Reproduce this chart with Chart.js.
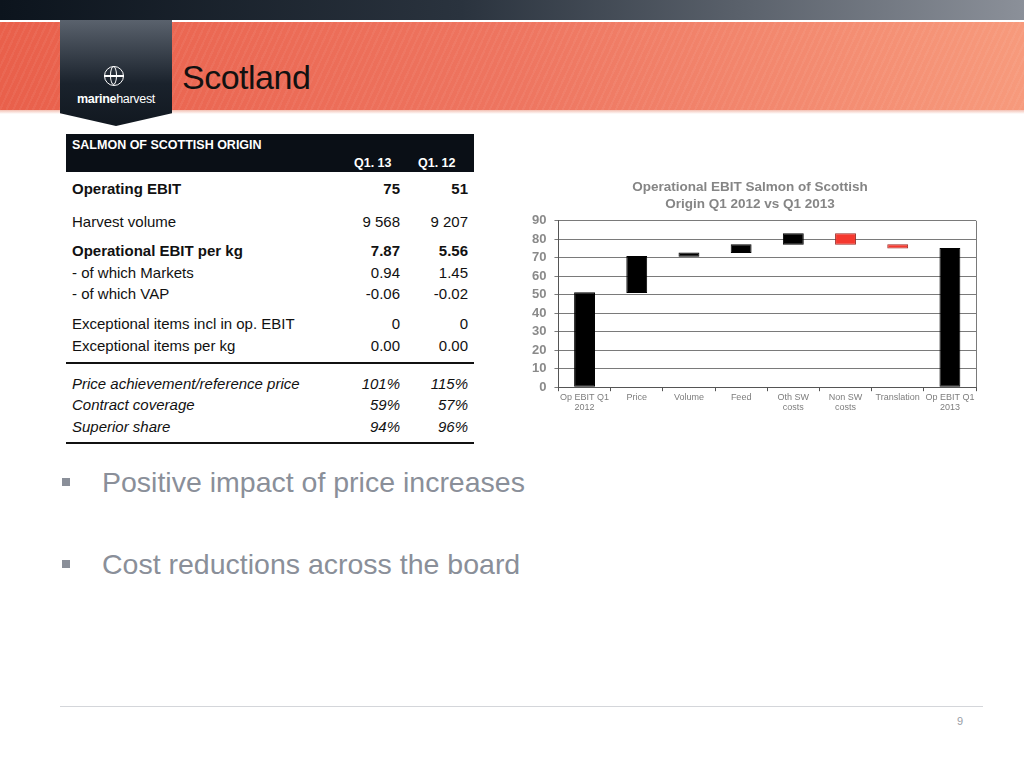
<!DOCTYPE html>
<html>
<head>
<meta charset="utf-8">
<script src="https://cdn.jsdelivr.net/npm/chart.js@4.4.1/dist/chart.umd.min.js"></script>
<style>
  body { margin: 0; width: 1024px; height: 768px; background: #fff; font-family: "Liberation Sans", Arial, sans-serif; position: relative; overflow: hidden; }
  .topbar { position: absolute; left: 0; top: 0; width: 1024px; height: 20px; background: linear-gradient(90deg, #0c141d 0%, #2a333e 45%, #8b9099 100%); }
  .band { position: absolute; left: 0; top: 22px; width: 1024px; height: 88px;
    background: repeating-linear-gradient(115deg, rgba(255,255,255,0.05) 0 2px, rgba(255,255,255,0) 2px 6px), linear-gradient(90deg, #e9604b 0%, #ee7560 50%, #f79a7c 100%); }
  .bandline { position: absolute; left: 0; top: 110px; width: 1024px; height: 4px; background: linear-gradient(#f3c0b3, #fff); }
  .logo { position: absolute; left: 60px; top: 20px; width: 112px; height: 106px; background: linear-gradient(#5a626d, #1a222c 60%, #111820);
    clip-path: polygon(0 0, 100% 0, 100% 88%, 50% 100%, 0 88%); }
  .globe { position: absolute; left: 44px; top: 46px; width: 20px; height: 20px; border: 1.5px solid #fff; border-radius: 50%; box-sizing: border-box; }
  .globe::before { content: ""; position: absolute; left: 5px; top: -1px; width: 7px; height: 19px; border: 1px solid #fff; border-radius: 50%; box-sizing: border-box; }
  .globe::after { content: ""; position: absolute; left: -1px; top: 8px; width: 20px; height: 2px; background: #fff; }
  .logotext { position: absolute; left: 0; top: 72px; width: 112px; text-align: center; color: #fff; font-size: 12.5px; letter-spacing: -0.3px; }
  .heading { position: absolute; left: 182px; top: 58px; font-size: 34px; color: #111; letter-spacing: -0.5px; }
  .tbl { position: absolute; left: 66px; top: 134px; width: 408px; font-size: 15px; color: #111; }
  .thead { position: absolute; left: 0; top: 0; width: 408px; height: 38px; background: #0a0f16; color: #fff; font-weight: bold; font-size: 12.5px; }
  .row { position: absolute; left: 6px; width: 400px; height: 20px; }
  .row span { position: absolute; }
  .c1 { right: 72px; }
  .c2 { right: 4px; }
  .b { font-weight: bold; }
  .i { font-style: italic; }
  .hr { position: absolute; left: 0; width: 408px; height: 2px; background: #111; }
  .bullet { position: absolute; left: 102px; font-size: 28.5px; color: #8a8f99; }
  .sq { position: absolute; left: 62px; width: 8px; height: 8px; background: #8a8f99; }
  .foot { position: absolute; left: 60px; top: 706px; width: 923px; height: 1px; background: #d4d6da; }
  .pnum { position: absolute; left: 957px; top: 715px; font-size: 11px; color: #9a9ea6; }
  #wrap { position: absolute; left: 524px; top: 175px; width: 466px; height: 238px; }
</style>
</head>
<body>
<div class="topbar"></div>
<div class="band"></div>
<div class="bandline"></div>
<div class="logo">
  <div class="globe"></div>
  <div class="logotext"><b>marine</b>harvest</div>
</div>
<div class="heading">Scotland</div>

<div class="tbl">
  <div class="thead">
    <span style="position:absolute;left:6px;top:4px;">SALMON OF SCOTTISH ORIGIN</span>
    <span style="position:absolute;left:288px;top:22px;">Q1. 13</span>
    <span style="position:absolute;left:352px;top:22px;">Q1. 12</span>
  </div>
  <div class="row b" style="top:46px;"><span>Operating EBIT</span><span class="c1">75</span><span class="c2">51</span></div>
  <div class="row" style="top:79px;"><span>Harvest volume</span><span class="c1">9 568</span><span class="c2">9 207</span></div>
  <div class="row b" style="top:108px;"><span>Operational EBIT per kg</span><span class="c1">7.87</span><span class="c2">5.56</span></div>
  <div class="row" style="top:130px;"><span>- of which Markets</span><span class="c1">0.94</span><span class="c2">1.45</span></div>
  <div class="row" style="top:151px;"><span>- of which VAP</span><span class="c1">-0.06</span><span class="c2">-0.02</span></div>
  <div class="row" style="top:181px;"><span>Exceptional items incl in op. EBIT</span><span class="c1">0</span><span class="c2">0</span></div>
  <div class="row" style="top:203px;"><span>Exceptional items per kg</span><span class="c1">0.00</span><span class="c2">0.00</span></div>
  <div class="hr" style="top:228px;"></div>
  <div class="row i" style="top:241px;"><span>Price achievement/reference price</span><span class="c1">101%</span><span class="c2">115%</span></div>
  <div class="row i" style="top:262px;"><span>Contract coverage</span><span class="c1">59%</span><span class="c2">57%</span></div>
  <div class="row i" style="top:284px;"><span>Superior share</span><span class="c1">94%</span><span class="c2">96%</span></div>
  <div class="hr" style="top:308px;height:1.5px;"></div>
</div>

<div class="sq" style="top:478px;"></div>
<div class="bullet" style="top:466px;">Positive impact of price increases</div>
<div class="sq" style="top:560px;"></div>
<div class="bullet" style="top:548px;">Cost reductions across the board</div>

<div class="foot"></div>
<div class="pnum">9</div>

<div id="wrap"><canvas id="c"></canvas></div>

<script>
const categories = [["Op EBIT Q1", "2012"], "Price", "Volume", "Feed", ["Oth SW", "costs"], ["Non SW", "costs"], "Translation", ["Op EBIT Q1", "2013"]];
const barStart = [0, 51, 70.5, 72.5, 77, 83.2, 77.3, 0];
const barEnd = [51.4, 71, 72.8, 77.3, 83.2, 77, 75, 75.3];
const barKind = ["total", "up", "up", "up", "up", "down", "down", "total"];
const yTicks = [0, 10, 20, 30, 40, 50, 60, 70, 80, 90];

const fill = { total: "#000000", up: "#000000", down: "#f5392f" };
const edge = { total: "#000000", up: "#000000", down: "#9c2a25" };

// frame around the plot area
const frame = {
  id: "frame",
  afterDraw(chart) {
    const a = chart.chartArea, g = chart.ctx;
    g.save();
    g.strokeStyle = "#7a7a7a";
    g.lineWidth = 1;
    g.beginPath();
    g.moveTo(a.right + 0.5, a.top);
    g.lineTo(a.right + 0.5, a.bottom);
    g.stroke();
    g.restore();
  }
};

new Chart(document.getElementById("c"), {
  type: "bar",
  data: {
    labels: categories,
    datasets: [{
      data: barStart.map((s, i) => [s, barEnd[i]]),
      backgroundColor: barKind.map(k => fill[k]),
      borderColor: barKind.map(k => edge[k]),
      borderWidth: 1,
      borderSkipped: false,
      barPercentage: 0.8,
      categoryPercentage: 0.5
    }]
  },
  options: {
    responsive: true,
    maintainAspectRatio: false,
    animation: false,
    layout: { padding: { left: 0, right: 14, top: 0, bottom: 0 } },
    plugins: {
      legend: { display: false },
      tooltip: { enabled: false },
      title: {
        display: true,
        text: ["Operational EBIT Salmon of Scottish", "Origin Q1 2012 vs Q1 2013"],
        color: "#858585",
        font: { size: 13.5, weight: "bold", family: "Liberation Sans, Arial, sans-serif", lineHeight: 1.25 },
        padding: { top: 4, bottom: 8 }
      }
    },
    scales: {
      x: {
        grid: { display: true, drawOnChartArea: false, drawTicks: true, tickLength: 4, color: "#555", offset: true },
        border: { color: "#555" },
        ticks: {
          color: "#7d7d7d",
          font: { size: 9, family: "Liberation Sans, Arial, sans-serif", lineHeight: 1.1 },
          maxRotation: 0, autoSkip: false, padding: 1
        }
      },
      y: {
        min: 0, max: 90,
        afterBuildTicks(axis) { axis.ticks = yTicks.map(v => ({ value: v })); },
        grid: { color: "#7a7a7a", tickLength: 4 },
        border: { color: "#555" },
        ticks: {
          color: "#8a8a8a",
          font: { size: 13, weight: "bold", family: "Liberation Sans, Arial, sans-serif", lineHeight: 1 },
          autoSkip: false,
          padding: 8
        }
      }
    }
  },
  plugins: [frame]
});
</script>
</body>
</html>
